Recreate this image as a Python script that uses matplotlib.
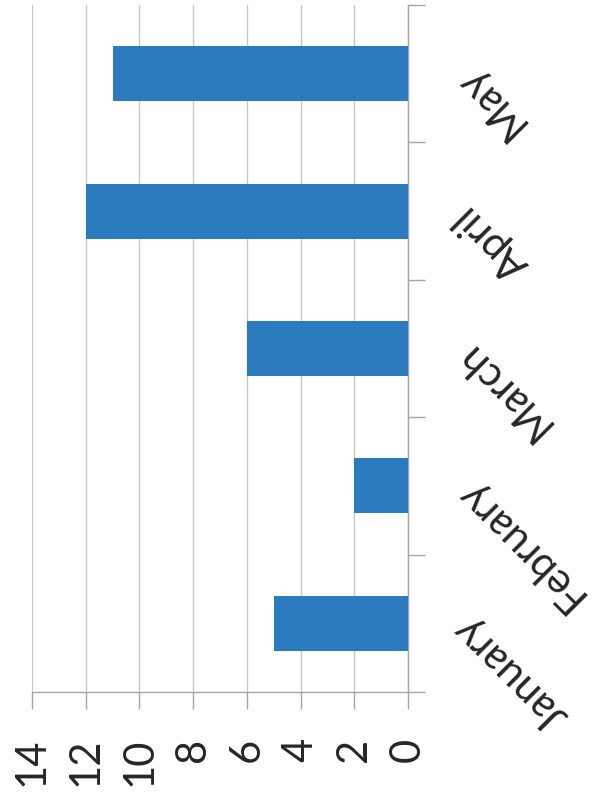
import matplotlib
matplotlib.use("Agg")
import matplotlib.pyplot as plt
import numpy as np

months = ["January", "February", "March", "April", "May"]
counts = [5, 2, 6, 12, 11]
value_ticks = [0, 2, 4, 6, 8, 10, 12, 14]

plt.rcParams["font.family"] = ["Lato", "DejaVu Sans"]

fig = plt.figure(figsize=(5.92, 7.93), dpi=100)
ax = fig.add_axes([32 / 592, 1 - 692 / 793, (408 - 32) / 592, (692 - 5) / 793])

pos = np.arange(len(months))
ax.barh(pos, counts, height=0.4, color="#2B7BBE", zorder=3)

# value axis runs right to left, zero at the category axis
ax.set_xlim(14, 0)
ax.set_ylim(-0.5, len(months) - 0.5)
ax.set_xticks(value_ticks)
ax.set_xticklabels([str(v) for v in value_ticks], rotation=90, va="top",
                   fontsize=30, color="#262626")
ax.tick_params(axis="x", direction="out", length=12, width=1, color="#a6a6a6", pad=21)
ax.grid(axis="x", color="#c8c8c8", linewidth=1, zorder=0)

# categories on the right with boundary ticks
ax.yaxis.tick_right()
ax.set_yticks(pos)
ax.set_yticks(np.arange(-0.5, len(months)), minor=True)
ax.set_yticklabels(months, fontsize=30, color="#262626")
for lbl in ax.get_yticklabels():
    lbl.set_rotation(135)
    lbl.set_rotation_mode("anchor")
    lbl.set_ha("right")
    lbl.set_va("center")
ax.tick_params(axis="y", which="major", length=0, pad=38)
ax.tick_params(axis="y", which="minor", direction="out", length=12, width=1,
               color="#a6a6a6", right=True, left=False)

for side in ["top", "left"]:
    ax.spines[side].set_visible(False)
for side in ["right", "bottom"]:
    ax.spines[side].set_color("#a6a6a6")
    ax.spines[side].set_linewidth(1)

fig.savefig("out.png", dpi=100)
